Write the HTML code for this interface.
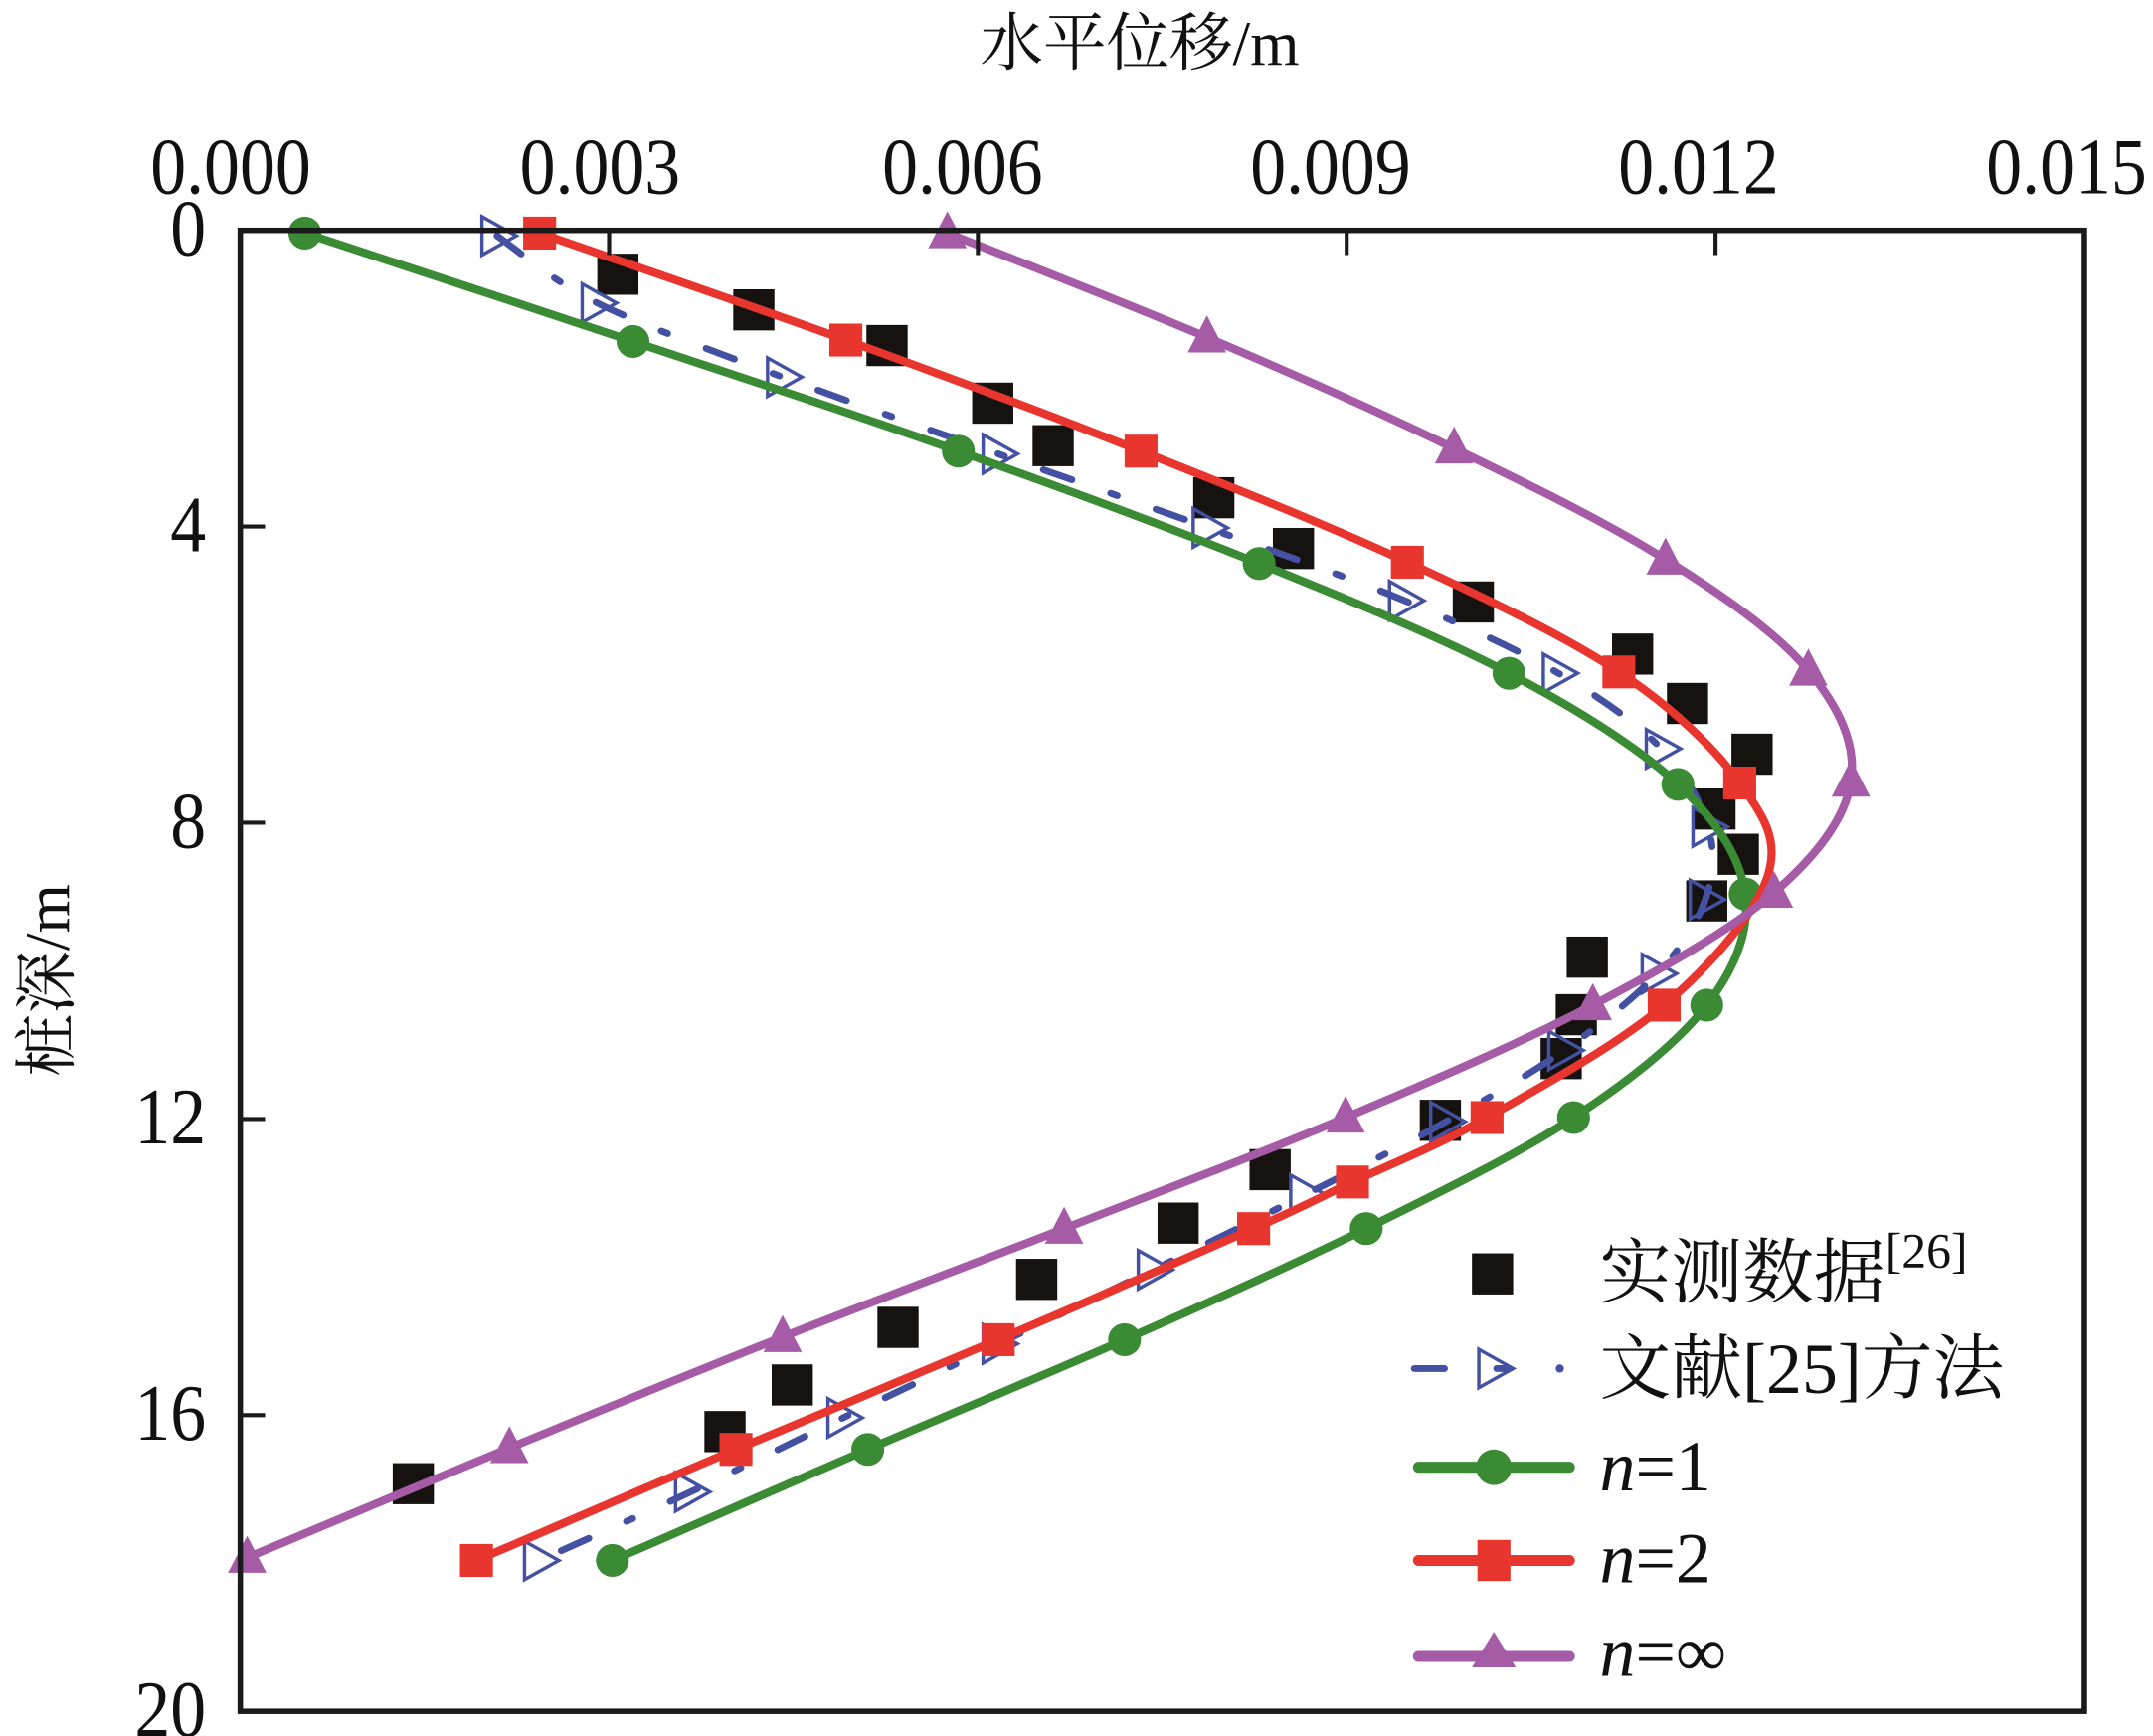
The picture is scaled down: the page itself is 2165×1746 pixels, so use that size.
<!DOCTYPE html>
<html><head><meta charset="utf-8">
<style>html,body{margin:0;padding:0;background:#fff}svg{display:block}
svg text{font-family:"Liberation Serif","Noto Serif CJK SC",serif}</style>
</head><body>
<svg id="s" width="2165" height="1746" viewBox="0 0 1568 1266" preserveAspectRatio="none" xmlns="http://www.w3.org/2000/svg">
<rect width="1568" height="1266" fill="#fff"/>
<g id="plot"></g>
<rect x="175" y="168" width="1343" height="1080" fill="none" stroke="#1a1a1a" stroke-width="4"/>
<g stroke="#1a1a1a" stroke-width="3">
<line x1="443.6" y1="168" x2="443.6" y2="186"/><line x1="712.2" y1="168" x2="712.2" y2="186"/>
<line x1="980.8" y1="168" x2="980.8" y2="186"/><line x1="1249.4" y1="168" x2="1249.4" y2="186"/>
<line x1="175" y1="384" x2="193" y2="384"/><line x1="175" y1="600" x2="193" y2="600"/>
<line x1="175" y1="816" x2="193" y2="816"/><line x1="175" y1="1032" x2="193" y2="1032"/>
</g>
<g font-size="52" fill="#111" text-anchor="middle">
<text transform="translate(168,141) scale(1,1.12)">0.000</text>
<text transform="translate(437,141) scale(1,1.12)">0.003</text>
<text transform="translate(701,141) scale(1,1.12)">0.006</text>
<text transform="translate(969,141) scale(1,1.12)">0.009</text>
<text transform="translate(1237,141) scale(1,1.12)">0.012</text>
<text transform="translate(1505,141) scale(1,1.12)">0.015</text>
</g>
<g font-size="52" fill="#111" text-anchor="end">
<text transform="translate(150,186) scale(1,1.12)">0</text>
<text transform="translate(150,402) scale(1,1.12)">4</text>
<text transform="translate(150,618) scale(1,1.12)">8</text>
<text transform="translate(150,834) scale(1,1.12)">12</text>
<text transform="translate(150,1050) scale(1,1.12)">16</text>
<text transform="translate(150,1266) scale(1,1.12)">20</text>
</g>
<text x="830" y="47" font-size="46" text-anchor="middle" fill="#111">水平位移/m</text>
<text transform="translate(50,715) rotate(-90)" font-size="46" text-anchor="middle" fill="#111">桩深/m</text>
<g id="leg"></g>
<g font-size="52" fill="#111">
<text x="1165" y="946">实测数据<tspan font-size="36" dy="-22">[26]</tspan></text>
<text x="1165" y="1016">文献[25]方法</text>
<text x="1165" y="1087"><tspan font-style="italic">n</tspan>=1</text>
<text x="1165" y="1154"><tspan font-style="italic">n</tspan>=2</text>
<text x="1165" y="1222"><tspan font-style="italic">n</tspan>=∞</text>
</g>
</svg>
<script>
var NS="http://www.w3.org/2000/svg",P=document.getElementById("plot"),L=document.getElementById("leg");
function el(t,a,p){var e=document.createElementNS(NS,t);for(var k in a)e.setAttribute(k,a[k]);(p||P).appendChild(e);return e;}
function cr(pts){var d="M"+pts[0][0]+","+pts[0][1];for(var i=0;i<pts.length-1;i++){var p0=pts[i-1]||pts[i],p1=pts[i],p2=pts[i+1],p3=pts[i+2]||p2;
d+=" C"+(p1[0]+(p2[0]-p0[0])/6)+","+(p1[1]+(p2[1]-p0[1])/6)+" "+(p2[0]-(p3[0]-p1[0])/6)+","+(p2[1]-(p3[1]-p1[1])/6)+" "+p2[0]+","+p2[1];}return d;}
var green="#3b8b35",red="#e8352e",purple="#a65ba6",blue="#4451a3";
var G=[[222,170],[461,249],[698,329],[917,411],[1099,491],[1222,572],[1271,652],[1243,733],[1146,815],[995,896],[819,977],[632,1057],[446,1138]];
var R=[[393,170],[616,248],[831,329],[1025,410],[1179,490],[1267,571],[1287,640],[1212,733],[1083,815],[985,862],[913,896],[727,977],[536,1057],[347,1138]];
var Rm=[0,1,2,3,4,5,7,8,9,10,11,12,13];
var U=[[690,170],[879,246],[1059,327],[1213,408],[1317,489],[1348,570],[1292,651],[1160,733],[980,815],[775,896],[570,975],[371,1056],[180,1136]];
var B=[[362,172],[435,221],[570,275],[727,331],[880,385],[1023,438],[1135,491],[1210,546],[1244,603],[1242,656],[1207,710],[1139,766],[1053,818],[951,871],[840,926],[727,980],[614,1034],[503,1088],[393,1138]];
var S=[[450,200],[549,226],[646,252],[723,294],[767,325],[884,363],[942,400],[1073,439],[1189,477],[1229,513],[1276,550],[1249,590],[1266,623],[1243,657],[1156,698],[1148,740],[1137,772],[1049,817],[925,853],[858,892],[755,933],[654,968],[577,1010],[528,1044],[301,1082]];
S.forEach(function(p){el("rect",{x:p[0]-15,y:p[1]-15,width:30,height:30,fill:"#15120f"});});
el("path",{d:cr(B),fill:"none",stroke:blue,"stroke-width":5,"stroke-dasharray":"22 30 5 30","stroke-linecap":"round"});
function tri(x,y,g,fill){el("polygon",{points:(x-11)+","+(y-14)+" "+(x+14)+","+y+" "+(x-11)+","+(y+14),fill:fill||"none",stroke:blue,"stroke-width":2.5},g);}
B.forEach(function(p){tri(p[0],p[1]);});
el("path",{d:cr(G),fill:"none",stroke:green,"stroke-width":6});
G.forEach(function(p){el("circle",{cx:p[0],cy:p[1],r:12,fill:green});});
el("path",{d:cr(R),fill:"none",stroke:red,"stroke-width":6});
Rm.forEach(function(i){var p=R[i];el("rect",{x:p[0]-12,y:p[1]-12,width:24,height:24,fill:red});});
el("path",{d:cr(U),fill:"none",stroke:purple,"stroke-width":6});
function ut(x,y,g){el("polygon",{points:x+","+(y-16)+" "+(x+14)+","+(y+11)+" "+(x-14)+","+(y+11),fill:purple},g);}
U.forEach(function(p){ut(p[0],p[1]);});
el("rect",{x:1072,y:914,width:30,height:30,fill:"#15120f"},L);
el("line",{x1:1030,y1:998,x2:1052,y2:998,stroke:blue,"stroke-width":5,"stroke-linecap":"round"},L);
el("line",{x1:1090,y1:998,x2:1098,y2:998,stroke:blue,"stroke-width":5,"stroke-linecap":"round"},L);
el("circle",{cx:1136,cy:998,r:3,fill:blue},L);tri(1088,998,L);
[[green,1070],[red,1138],[purple,1208]].forEach(function(a){el("line",{x1:1033,y1:a[1],x2:1143,y2:a[1],stroke:a[0],"stroke-width":8,"stroke-linecap":"round"},L);});
el("circle",{cx:1088,cy:1070,r:13,fill:green},L);
el("rect",{x:1076,y:1123,width:24,height:30,fill:red},L);
el("polygon",{points:"1088,1190 1104,1216 1072,1216",fill:purple},L);
</script>
</body></html>
